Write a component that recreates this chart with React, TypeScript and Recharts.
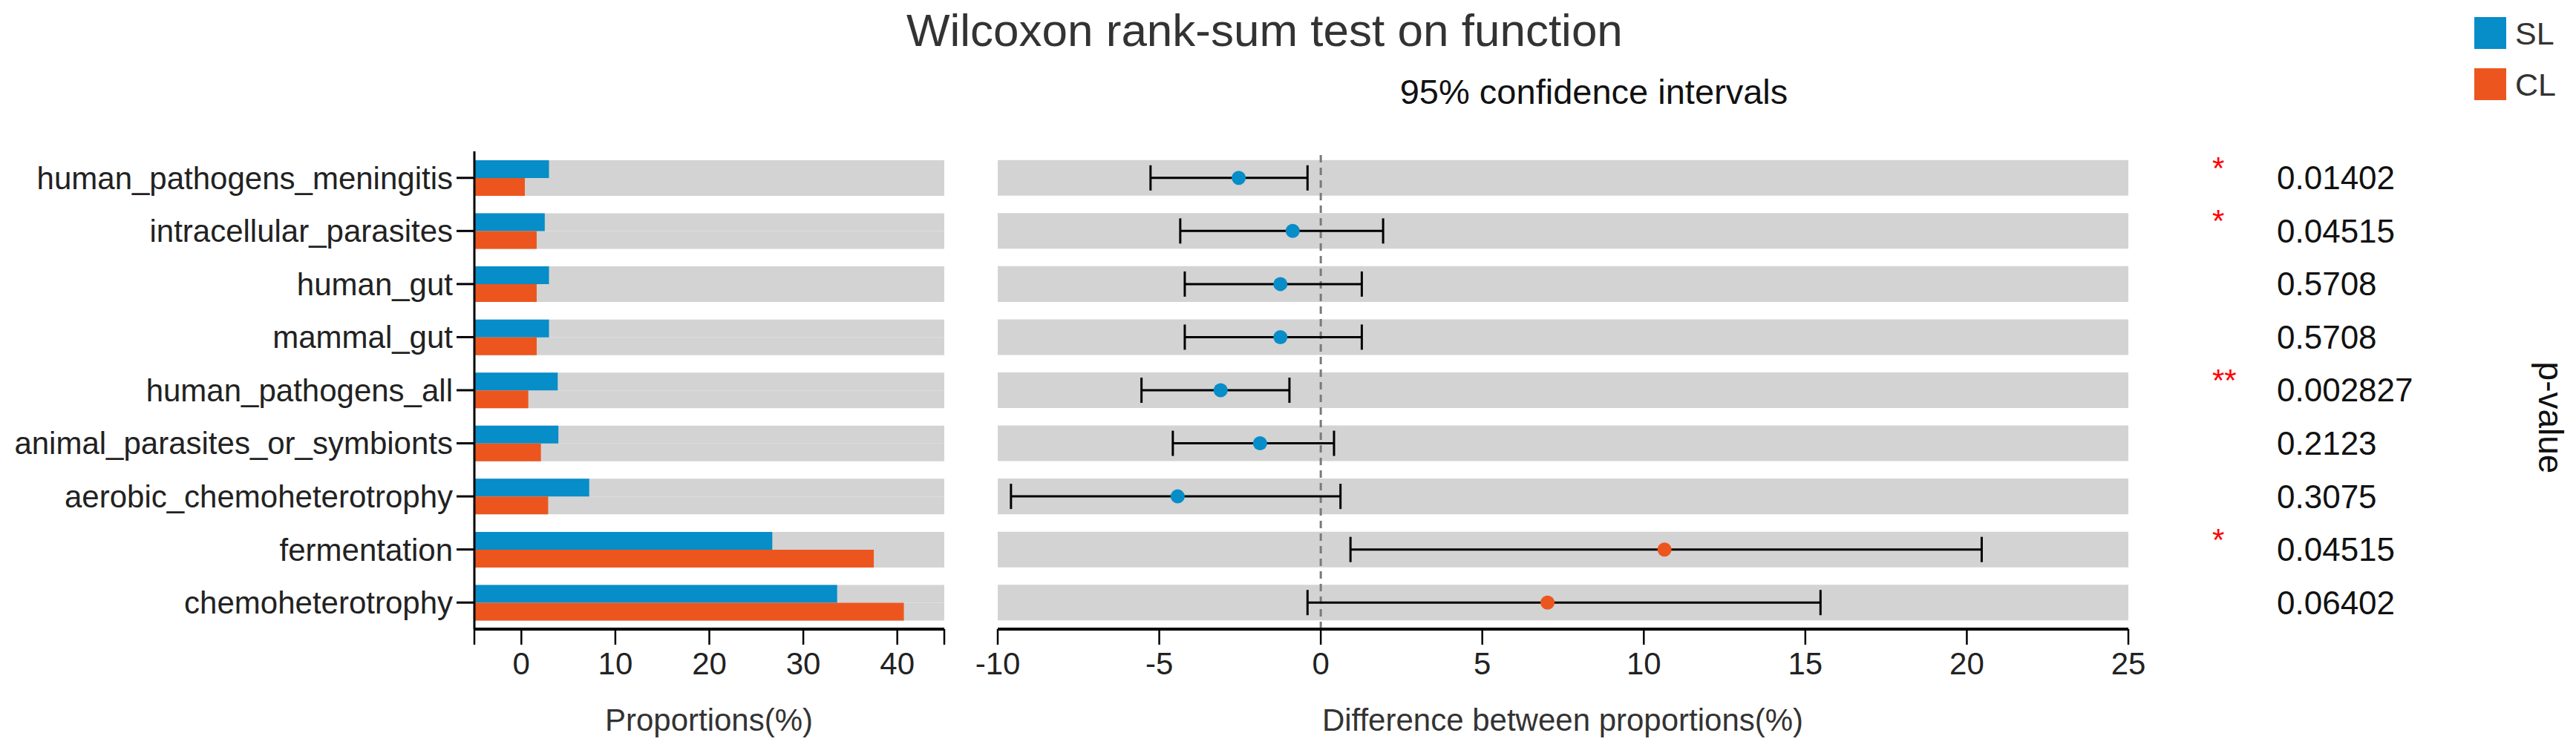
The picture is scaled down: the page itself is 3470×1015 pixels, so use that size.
import React from 'react';
import {
  BarChart,
  Bar,
  XAxis,
  YAxis,
  ScatterChart,
  Scatter,
  ErrorBar,
  ReferenceArea,
  ReferenceLine,
  Cell,
} from 'recharts';

// ---------------- data ----------------
const categories = [
  'human_pathogens_meningitis',
  'intracellular_parasites',
  'human_gut',
  'mammal_gut',
  'human_pathogens_all',
  'animal_parasites_or_symbionts',
  'aerobic_chemoheterotrophy',
  'fermentation',
  'chemoheterotrophy',
];
const groups = ['SL', 'CL'];
const slValues = [2.94, 2.49, 2.94, 2.94, 3.87, 3.94, 7.22, 26.7, 33.6];
const clValues = [0.37, 1.63, 1.63, 1.63, 0.74, 2.08, 2.85, 37.5, 40.7];
const diffValues = [-2.54, -0.87, -1.25, -1.25, -3.1, -1.88, -4.43, 10.64, 7.02];
const ciLower = [-5.27, -4.35, -4.21, -4.21, -5.55, -4.58, -9.59, 0.92, -0.41];
const ciUpper = [-0.41, 1.93, 1.27, 1.27, -0.97, 0.41, 0.61, 20.46, 15.47];
const pValues = ['0.01402', '0.04515', '0.5708', '0.5708', '0.002827', '0.2123', '0.3075', '0.04515', '0.06402'];
const stars = ['*', '*', '', '', '**', '', '', '*', ''];
const propDomain = [-5, 45];
const propTicks = [-5, 0, 10, 20, 30, 40, 45];
const diffDomain = [-10, 25];
const diffTicks = [-10, -5, 0, 5, 10, 15, 20, 25];
const rowTicks = categories.map((_, i) => i);

// ---------------- styles ----------------
const FONT = '"Liberation Sans", Arial, Helvetica, sans-serif';
const BLUE = '#078DC8';
const ORANGE = '#EC561E';
const GRAY = '#D3D3D3';
const TEXT = '#222222';
const W = 3470;
const H = 1015;
const TOP = 204;
const BOTTOM = 167;
const BAND_HALF = 24 / 71.5;

const propData = categories.map((name, i) => ({
  name,
  sl: [propDomain[0], slValues[i]],
  cl: [propDomain[0], clValues[i]],
}));

const ciData = categories.map((name, i) => ({
  name,
  x: diffValues[i],
  y: i,
  err: [diffValues[i] - ciLower[i], ciUpper[i] - diffValues[i]],
}));

const axisLineStyle = { stroke: '#000', strokeWidth: 4 };
const tickLineStyle = { stroke: '#000', strokeWidth: 2.5 };
const tickStyle = { fontSize: 42, fill: TEXT, fontFamily: FONT };

const PTick = (props: any) => {
  const { x, y, payload } = props;
  const i = payload.value;
  return (
    <g>
      {stars[i] ? (
        <text x={x + 113} y={y + 1} fill="#FF0000" fontSize={42} fontFamily={FONT}>
          {stars[i]}
        </text>
      ) : null}
      <text x={x + 200} y={y} dy="0.35em" fill="#111" fontSize={44} fontFamily={FONT}>
        {pValues[i]}
      </text>
    </g>
  );
};

const Dot = (props: any) => {
  const { cx, cy, fill } = props;
  if (cx == null || cy == null) return null;
  return <circle cx={cx} cy={cy} r={9.5} fill={fill} />;
};

export default function App() {
  return (
    <div style={{ position: 'absolute', left: 0, top: 0, width: W, height: H, background: '#fff', fontFamily: FONT }}>
      {/* Left panel: proportions */}
      <div style={{ position: 'absolute', left: 0, top: 0 }}>
        <BarChart
          width={1300}
          height={H}
          data={propData}
          layout="vertical"
          margin={{ top: TOP, right: 28, bottom: BOTTOM - 100, left: 0 }}
          barGap={0}
        >
          <XAxis
            type="number"
            domain={propDomain}
            ticks={propTicks}
            interval={0}
            allowDataOverflow
            height={100}
            axisLine={axisLineStyle}
            tickLine={tickLineStyle}
            tickSize={21}
            tickMargin={10}
            tick={tickStyle}
            tickFormatter={(v: number) => (v === propDomain[0] || v === propDomain[1] ? '' : String(v))}
          />
          <YAxis
            type="category"
            dataKey="name"
            width={639}
            interval={0}
            axisLine={{ stroke: '#000', strokeWidth: 3 }}
            tickLine={{ stroke: '#000', strokeWidth: 3 }}
            tickSize={24}
            tickMargin={5}
            tick={tickStyle}
          />
          <Bar dataKey="sl" name={groups[0]} fill={BLUE} barSize={24} background={{ fill: GRAY }} isAnimationActive={false} />
          <Bar dataKey="cl" name={groups[1]} fill={ORANGE} barSize={24} background={{ fill: GRAY }} isAnimationActive={false} />
        </BarChart>
      </div>

      {/* Right panel: differences with CI */}
      <div style={{ position: 'absolute', left: 1300, top: 0 }}>
        <ScatterChart width={W - 1300} height={H} margin={{ top: TOP, right: 0, bottom: BOTTOM - 100, left: 44 }}>
          <XAxis
            type="number"
            dataKey="x"
            domain={diffDomain}
            ticks={diffTicks}
            interval={0}
            allowDataOverflow
            height={100}
            axisLine={axisLineStyle}
            tickLine={tickLineStyle}
            tickSize={21}
            tickMargin={10}
            tick={tickStyle}
          />
          <YAxis
            type="number"
            dataKey="y"
            orientation="right"
            domain={[-0.5, categories.length - 0.5]}
            reversed
            ticks={rowTicks}
            interval={0}
            allowDataOverflow
            width={W - 1300 - 44 - 1523}
            axisLine={false}
            tickLine={false}
            tickSize={0}
            tickMargin={0}
            tick={<PTick />}
          />
          {rowTicks.map((i) => (
            <ReferenceArea
              key={'band' + i}
              x1={diffDomain[0]}
              x2={diffDomain[1]}
              y1={i - BAND_HALF}
              y2={i + BAND_HALF}
              fill={GRAY}
              fillOpacity={1}
              stroke="none"
              ifOverflow="visible"
            />
          ))}
          <ReferenceLine x={0} stroke="#7a7a7a" strokeWidth={3} strokeDasharray="10 7" />
          <Scatter data={ciData} isAnimationActive={false} shape={<Dot />}>
            {ciData.map((d, i) => (
              <Cell key={'c' + i} fill={d.x < 0 ? BLUE : ORANGE} />
            ))}
            <ErrorBar dataKey="err" direction="x" width={17} stroke="#000" strokeWidth={3} isAnimationActive={false} />
          </Scatter>
        </ScatterChart>
      </div>

      {/* Titles, legend and labels */}
      <svg width={W} height={H} style={{ position: 'absolute', left: 0, top: 0, pointerEvents: 'none' }}>
        <text x={1221} y={62} fontSize={62} fill="#333" fontFamily={FONT}>
          Wilcoxon rank-sum test on function
        </text>
        <text x={2147} y={140} fontSize={47} fill="#111" fontFamily={FONT} textAnchor="middle">
          95% confidence intervals
        </text>
        <rect x={3333} y={23} width={43} height={43} fill={BLUE} />
        <text x={3388} y={45} dy="0.35em" fontSize={43} fill="#333" fontFamily={FONT}>
          {groups[0]}
        </text>
        <rect x={3333} y={92} width={43} height={43} fill={ORANGE} />
        <text x={3388} y={114} dy="0.35em" fontSize={43} fill="#333" fontFamily={FONT}>
          {groups[1]}
        </text>
        <text x={955} y={985} fontSize={42} fill="#333" fontFamily={FONT} textAnchor="middle">
          Proportions(%)
        </text>
        <text x={2105} y={985} fontSize={42} fill="#333" fontFamily={FONT} textAnchor="middle">
          Difference between proportions(%)
        </text>
        <text
          x={3436}
          y={563}
          fontSize={46}
          fill="#111"
          fontFamily={FONT}
          textAnchor="middle"
          dominantBaseline="central"
          transform="rotate(90 3436 563)"
        >
          p-value
        </text>
      </svg>
    </div>
  );
}
